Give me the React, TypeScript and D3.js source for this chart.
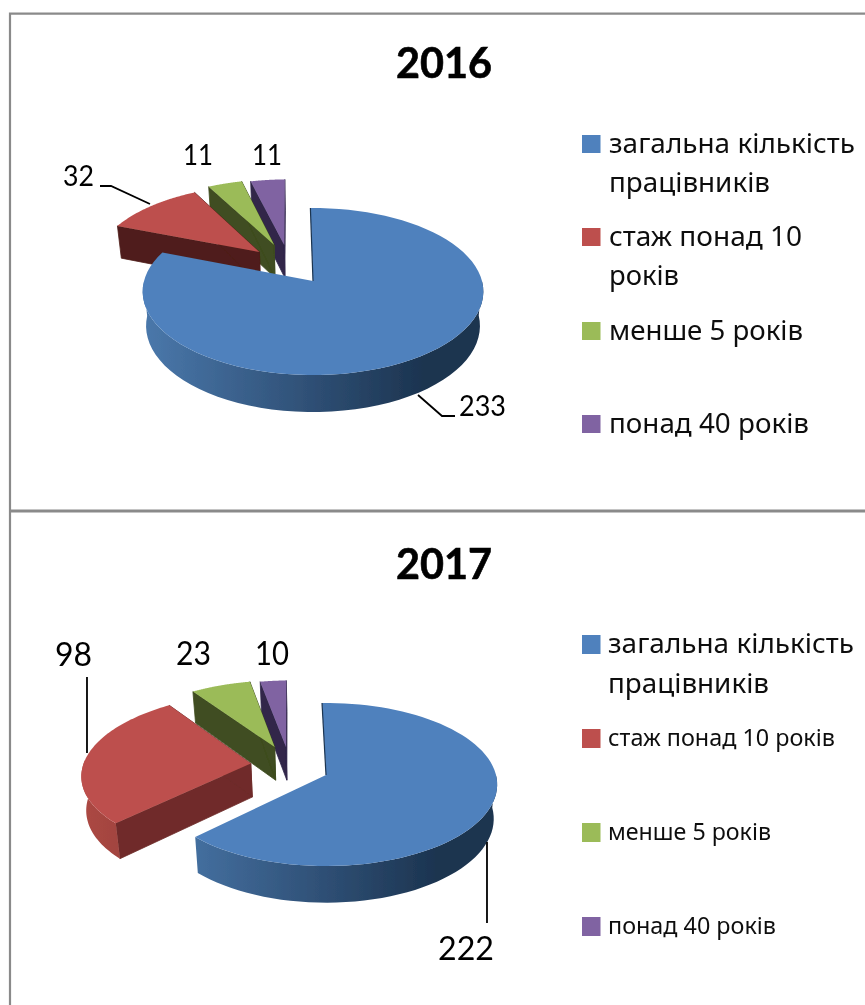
import React from "react";
import * as d3 from "d3";

const categories = ["загальна кількість працівників", "стаж понад 10 років", "менше 5 років", "понад 40 років"];
const years = ["2016", "2017"];
const values2016 = [233, 32, 11, 11];
const values2017 = [222, 98, 23, 10];
const legendLines2016 = [["загальна кількість", "працівників"], ["стаж понад 10", "років"], ["менше 5 років"], ["понад 40 років"]];
const legendLines2017 = [["загальна кількість", "працівників"], ["стаж понад 10 років"], ["менше 5 років"], ["понад 40 років"]];

const topColors = ["#4f81bd", "#bd504d", "#9bbb59", "#8064a2"];

type Cfg = {
  id: string; values: number[]; apex: [number, number]; B: number; A: number; k: number; D: number; rot: number;
  explode: [number, number][]; wallColors: string[]; rimStops: [string, string][];
  title: { y: number }; 
  labels: { x: number; y: number; w: number; size: number }[];
  leaders: [number, number][][];
  legend: { lines: string[]; size: number; x: number; marker: [number, number]; ys: number[]; ws: number[] }[];
};

const cfg2016: Cfg = {
  id: "a", values: values2016, apex: [313, 281], B: 169, A: 82.2, k: 0.126, D: 34, rot: -1,
  explode: [[0, 0], [-0.332, -0.369], [-0.243, -0.464], [-0.18, -0.464]],
  wallColors: ["#1c3450", "#4f1e1b", "#3f4d20", "#30264a"],
  rimStops: [["#4a78ab", "#1c3450"], ["#8a3a36", "#4f1e1b"], ["#5d7335", "#3f4d20"], ["#4d3c62", "#30264a"]],
  title: { y: 78 },
  labels: [{ x: 459, y: 416, w: 47, size: 28 }, { x: 63, y: 186, w: 31, size: 28 }, { x: 183, y: 165, w: 30, size: 28 }, { x: 252, y: 165, w: 30, size: 28 }],
  leaders: [[[418, 395], [442, 416], [455, 416]], [[100, 186], [111, 186], [150, 204]]],
  legend: [
    { lines: legendLines2016[0], size: 28, x: 609, marker: [135, 18], ys: [153, 192], ws: [246, 161] },
    { lines: legendLines2016[1], size: 28, x: 609, marker: [228, 18], ys: [246, 285], ws: [193, 70] },
    { lines: legendLines2016[2], size: 28, x: 609, marker: [322, 18], ys: [340], ws: [194] },
    { lines: legendLines2016[3], size: 28, x: 609, marker: [415, 18], ys: [433], ws: [200] },
  ],
};

const cfg2017: Cfg = {
  id: "b", values: values2017, apex: [326, 775], B: 170, A: 80.4, k: 0.1166, D: 34, rot: -1.5,
  explode: [[0, 0], [-0.45, -0.147], [-0.315, -0.363], [-0.245, -0.363]],
  wallColors: ["#1c3450", "#6f2c2a", "#3f4d20", "#30264a"],
  rimStops: [["#4a78ab", "#1c3450"], ["#ab4843", "#6f2c2a"], ["#5d7335", "#3f4d20"], ["#4d3c62", "#30264a"]],
  title: { y: 579 },
  labels: [{ x: 438, y: 960, w: 56, size: 32 }, { x: 55, y: 666, w: 37, size: 32 }, { x: 176, y: 665, w: 35, size: 32 }, { x: 255, y: 665, w: 34, size: 32 }],
  leaders: [[[487, 842], [487, 923]], [[87, 677], [87, 753]]],
  legend: [
    { lines: legendLines2017[0], size: 28, x: 608, marker: [635, 19], ys: [653, 693], ws: [246, 161] },
    { lines: legendLines2017[1], size: 23, x: 608, marker: [729, 19], ys: [746], ws: [227] },
    { lines: legendLines2017[2], size: 23, x: 608, marker: [823, 19], ys: [840], ws: [163] },
    { lines: legendLines2017[3], size: 23, x: 608, marker: [917, 19], ys: [934], ws: [168] },
  ],
};

function Pie3D({ c, year }: { c: Cfg; year: string }) {
  const rot = (c.rot * Math.PI) / 180;
  const arcs = d3.pie<number>().sort(null).startAngle(rot).endAngle(rot + 2 * Math.PI)(c.values);
  const lineGen = d3.line<[number, number]>();

  const top = (u: number, v: number): [number, number] => {
    const den = 1 - c.k * v;
    return [c.apex[0] + (c.B * u) / den, c.apex[1] + (c.A * v) / den];
  };
  const bottom = (u: number, v: number): [number, number] => {
    const den = 1 - c.k * v;
    return [c.apex[0] + (0.98 * c.B * u) / den, c.apex[1] + (c.A * v) / den * 0.98 + c.D / den];
  };
  const order = [3, 2, 1, 0];

  return (
    <g>
      <defs>
        {c.rimStops.map((s, i) => {
          const mid = d3.interpolateRgb(s[0], s[1]);
          return (
            <linearGradient key={i} id={`rim-${c.id}-${i}`} gradientUnits="userSpaceOnUse"
              x1={c.apex[0] - c.B - (i === 1 ? 70 : 0)} x2={c.apex[0] + c.B * (i === 0 ? 0.65 : -0.1)} y1={0} y2={0}>
              <stop offset="0" stopColor={s[0]} />
              <stop offset="0.5" stopColor={mid(0.5)} />
              <stop offset="1" stopColor={s[1]} />
            </linearGradient>
          );
        })}
      </defs>
      {order.map((i) => {
        const a = arcs[i];
        const [eu, ev] = c.explode[i];
        const thetas = d3.range(0, 81).map((t) => a.startAngle + ((a.endAngle - a.startAngle) * t) / 80);
        const rimUV = thetas.map((t) => [Math.sin(t) + eu, -Math.cos(t) + ev] as [number, number]);
        const topPts = rimUV.map(([u, v]) => top(u, v));
        const botPts = rimUV.map(([u, v]) => bottom(u, v));
        const frontIdx = thetas.map((t, j) => (-Math.cos(t) > -0.05 ? j : -1)).filter((j) => j >= 0);
        const apexT = top(eu, ev);
        const apexB = bottom(eu, ev);
        const wallStart = [apexT, topPts[0], botPts[0], apexB] as [number, number][];
        const wallEnd = [apexT, topPts[80], botPts[80], apexB] as [number, number][];
        const rim = [...frontIdx.map((j) => topPts[j]), ...frontIdx.map((j) => botPts[j]).reverse()];
        const face = [apexT, ...topPts];
        return (
          <g key={i}>
            {i !== 0 && <path d={lineGen(wallStart) + "Z"} fill={c.wallColors[i]} stroke={c.wallColors[i]} strokeWidth={0.8} />}
            {i !== 0 && <path d={lineGen(wallEnd) + "Z"} fill={c.wallColors[i]} stroke={c.wallColors[i]} strokeWidth={0.8} />}
            {rim.length > 0 && <path d={lineGen(rim) + "Z"} fill={`url(#rim-${c.id}-${i})`} />}
            <path d={lineGen(face) + "Z"} fill={topColors[i]} />
            {i === 0 && <path d={lineGen([apexT, topPts[0]])!} stroke={c.wallColors[0]} strokeWidth={1.2} fill="none" />}
          </g>
        );
      })}
      {c.leaders.map((l, i) => (
        <path key={i} d={lineGen(l)!} fill="none" stroke="#000" strokeWidth={1.8} />
      ))}
      {c.labels.map((l, i) => (
        <text key={i} x={l.x} y={l.y} fontFamily="Lato" fontSize={l.size} fill="#000"
          textLength={l.w} lengthAdjust="spacingAndGlyphs">{c.values[i]}</text>
      ))}
      <text x={396} y={c.title.y} fontFamily="Lato" fontWeight={700} fontSize={42} fill="#000"
        stroke="#000" strokeWidth={0.6} textLength={96} lengthAdjust="spacingAndGlyphs">{year}</text>
      {c.legend.map((e, i) => (
        <g key={i}>
          <rect x={582} y={e.marker[0]} width={18.5} height={e.marker[1]} fill={topColors[i]} />
          {e.lines.map((t, j) => (
            <text key={j} x={e.x} y={e.ys[j]} fontFamily="'Noto Sans'" fontSize={e.size} fill="#111"
              textLength={e.ws[j]} lengthAdjust="spacingAndGlyphs">{t}</text>
          ))}
        </g>
      ))}
    </g>
  );
}

export default function App() {
  return (
    <svg width={865} height={1005} viewBox="0 0 865 1005"
      style={{ position: "absolute", left: 0, top: 0, background: "#fff" }}
      aria-label={categories.join(", ")}>
      <defs>
        <filter id="soft" x="0" y="0" width="100%" height="100%" filterUnits="userSpaceOnUse">
          <feGaussianBlur stdDeviation="0.45" />
        </filter>
      </defs>
      <g filter="url(#soft)">
        <rect x={0} y={0} width={865} height={1005} fill="#fff" />
        <path d="M865,13.7H10V1005" fill="none" stroke="#8a8a8a" strokeWidth={2.2} />
        <path d="M9,511H865" fill="none" stroke="#8a8a8a" strokeWidth={3} />
        <Pie3D c={cfg2016} year={years[0]} />
        <Pie3D c={cfg2017} year={years[1]} />
      </g>
    </svg>
  );
}
